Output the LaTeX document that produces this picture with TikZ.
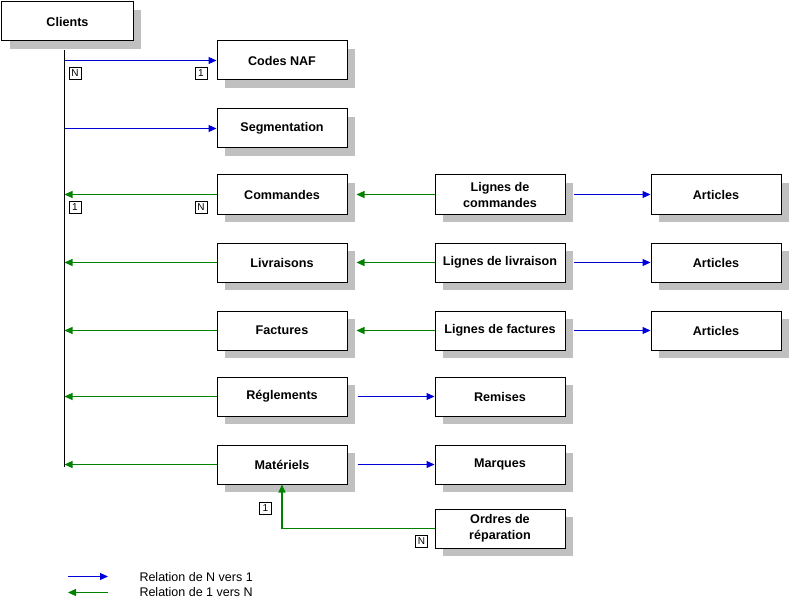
\documentclass[tikz,border=0pt]{standalone}
\usepackage{fontspec}
\setmainfont{Liberation Sans}
\usetikzlibrary{arrows.meta, shadows, calc}

\definecolor{nvers1}{RGB}{0,0,220}
\definecolor{unversn}{RGB}{0,130,0}
\definecolor{ombre}{RGB}{192,192,192}

\begin{document}
\begin{tikzpicture}[
  x=1bp, y=-1bp,
  every node/.style={align=center},
  entity/.style={rectangle, draw, fill=white, line width=1bp, inner sep=2bp,
    minimum width=130bp, minimum height=39bp,
    font=\fontsize{12.6bp}{16bp}\selectfont\bfseries,
    drop shadow={shadow xshift=8bp, shadow yshift=-8bp, fill=ombre, opacity=1}},
  card/.style={rectangle, draw, line width=0.8bp, inner sep=0pt, minimum size=12bp,
    font=\fontsize{10bp}{10bp}\selectfont},
  nto1/.style={nvers1, line width=1.1bp, -{Triangle[length=8bp, width=7bp]}},
  oneton/.style={unversn, line width=1.1bp, -{Triangle[length=8bp, width=7bp]}},
  legend text/.style={anchor=west, font=\fontsize{12.5bp}{14bp}\selectfont}
]
\useasboundingbox (0,0) rectangle (794,607);

% entities
\node[entity, minimum width=131bp] (clients) at (67.5,21.5) {Clients};
\node[entity] (naf)   at (282,60.5)  {Codes NAF};
\node[entity] (segm)  at (282,128.5) {Segmentation};
\node[entity] (cmd)   at (282,194.5) {Commandes};
\node[entity] (livr)  at (282,262.5) {Livraisons};
\node[entity] (fact)  at (282,330.5) {Factures};
\node[entity] (regl)  at (282,396.5) {Réglements};
\node[entity] (mat)   at (282,464.5) {Matériels};

\node[entity] (lcmd)  at (500,194.5) {Lignes de\\commandes};
\node[entity] (llivr) at (500,262.5) {Lignes de livraison};
\node[entity] (lfact) at (500,330.5) {Lignes de factures};
\node[entity] (rem)   at (500,396.5) {Remises};
\node[entity] (marq)  at (500,464.5) {Marques};
\node[entity] (ordre) at (500,528.5) {Ordres de\\réparation};

\node[entity] (art1)  at (716,194.5) {Articles};
\node[entity] (art2)  at (716,262.5) {Articles};
\node[entity] (art3)  at (716,330.5) {Articles};

% spine under Clients
\coordinate (spinetop) at (64.5,50);
\coordinate (spinebot) at (64.5,467);
\draw[line width=1bp] (spinetop) -- (spinebot);

% relations from / to Clients
\draw[nto1]   (spinetop |- naf.west)  -- (naf.west);
\draw[nto1]   (spinetop |- segm.west) -- (segm.west);
\draw[oneton] (cmd.west)  -- (spinetop |- cmd.west);
\draw[oneton] (livr.west) -- (spinetop |- livr.west);
\draw[oneton] (fact.west) -- (spinetop |- fact.west);
\draw[oneton] (regl.west) -- (spinetop |- regl.west);
\draw[oneton] (mat.west)  -- (spinetop |- mat.west);

% second level
\draw[oneton] (lcmd.west)  -- ([xshift=9bp]cmd.east);
\draw[oneton] (llivr.west) -- ([xshift=9bp]livr.east);
\draw[oneton] (lfact.west) -- ([xshift=9bp]fact.east);
\draw[nto1] ([xshift=10bp]regl.east) -- (rem.west);
\draw[nto1] ([xshift=10bp]mat.east)  -- (marq.west);
\draw[nto1] ([xshift=8bp]lcmd.east)  -- (art1.west);
\draw[nto1] ([xshift=8bp]llivr.east) -- (art2.west);
\draw[nto1] ([xshift=8bp]lfact.east) -- (art3.west);
\draw[oneton] (ordre.west) -| (mat.south);

% cardinalities
\node[card] (cn1) at (75,73)    {N};
\node[card] (c11) at (201,73)   {1};
\node[card] (c12) at (75,207)   {1};
\node[card] (cn2) at (201,207)  {N};
\node[card] (c13) at (265.5,508.5) {1};
\node[card] (cn3) at (421.5,541.5) {N};

% legend
\coordinate (lega) at (68,576.5);
\coordinate (legb) at (108,576.5);
\coordinate (legc) at (68,592.5);
\coordinate (legd) at (108,592.5);
\draw[nto1]   (lega) -- (legb);
\draw[oneton] (legd) -- (legc);
\node[legend text] (leg1) at (136,577) {Relation de N vers 1};
\node[legend text] (leg2) at (136,592) {Relation de 1 vers N};
\end{tikzpicture}
\end{document}
